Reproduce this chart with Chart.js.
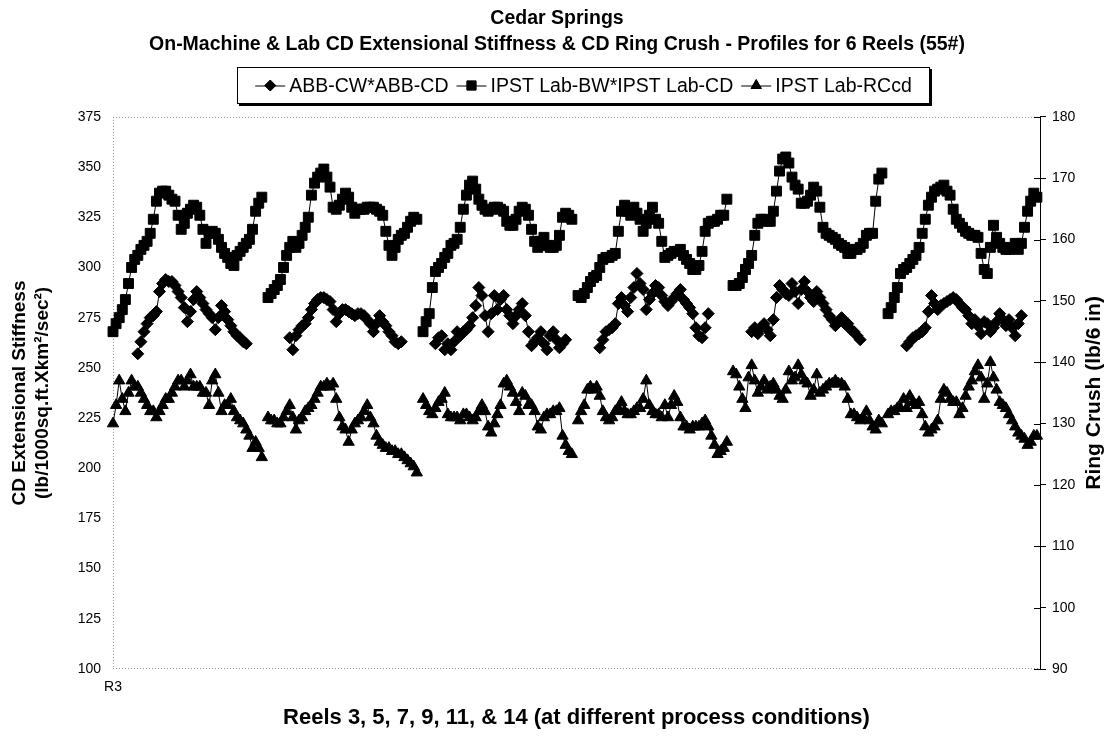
<!DOCTYPE html>
<html>
<head>
<meta charset="utf-8">
<title>Cedar Springs CD profiles</title>
<script src="https://cdn.jsdelivr.net/npm/chart.js@4.4.1/dist/chart.umd.min.js"></script>
<style>
  html, body { margin: 0; padding: 0; background: #fff; }
  canvas { display: block; }
</style>
</head>
<body>
<canvas id="profiles" width="1114" height="741"></canvas>
<script>
// Reels in the order they were run, 49 CD positions each
const reelNames = ['R3', 'R5', 'R7', 'R9', 'R11', 'R14'];
const axisLabels = ['R3'];

// ABB-CW*ABB-CD on-machine stiffness (left axis); edges not measured
const abbStiffness = [
  [null, null, null, null, null, null, null, null, 257, 263, 268, 272, 275, 276, 278, 288, 292, 294, 293, 293, 291, 288, 285, 280, 273, 278, 284, 288, 285, 282, 279, 277, 275, 269, 275, 281, 278, 274, 271, 268, 266, 265, 263, 262, null, null, null, null, null],
  [null, null, null, null, null, null, null, 265, 259, 266, 269, 271, 272, 275, 279, 282, 284, 285, 285, 284, 283, 279, 273, 277, 279, 279, 278, 277, 276, 277, 277, 276, 274, 272, 268, 272, 276, 273, 271, 268, 266, 263, 262, 263, null, null, null, null, null],
  [null, null, null, null, 262, 265, 266, 259, 262, 259, 263, 268, 266, 268, 269, 271, 275, 281, 290, 286, 276, 268, 277, 286, 279, 284, 286, 279, 276, 272, 276, 279, 282, 276, 268, 261, 263, 265, 268, 262, 259, 266, 268, 264, 260, 262, 264, null, null],
  [null, null, null, null, null, null, null, 260, 264, 268, 269, 270, 272, 282, 285, 281, 278, 285, 290, 297, 292, 289, 279, 284, 287, 291, 290, 286, 283, 281, 283, 285, 287, 289, 284, 282, 280, 277, 270, 266, 265, 270, 277, null, null, null, null, null, null],
  [null, null, null, null, null, null, 268, 270, 267, 270, 272, 269, 266, 274, 285, 291, 289, 287, 286, 292, 288, 282, 289, 293, 288, 285, 283, 288, 285, 282, 279, 276, 274, 271, 273, 275, 272, 272, 269, 268, 266, 264, null, null, null, null, null, null, null],
  [null, null, null, null, null, null, 261, 263, 265, 266, 267, 268, 270, 278, 286, 282, 279, 281, 282, 283, 284, 285, 284, 282, 280, 279, 276, 272, 274, 271, 267, 273, 272, 268, 270, 273, 277, 274, 271, 274, 270, 266, 272, 276, null, null, null, null, null]
];

// IPST Lab-BW*IPST Lab-CD stiffness (left axis)
const labStiffness = [
  [268, 272, 275, 279, 284, 292, 300, 304, 306, 309, 311, 313, 317, 324, 333, 337, 338, 338, 336, 334, 333, 326, 319, 322, 327, 329, 331, 330, 326, 319, 312, 317, 318, 317, 314, 310, 307, 305, 302, 301, 306, 308, 310, 312, 314, 319, 328, 332, 335],
  [285, 287, 289, 291, 294, 300, 306, 310, 313, 310, 312, 316, 320, 325, 336, 342, 345, 347, 349, 345, 340, 330, 329, 331, 334, 337, 335, 330, 327, 329, 329, 329, 330, 330, 330, 329, 328, 326, 318, 311, 306, 310, 314, 316, 317, 320, 323, 325, 324],
  [268, 273, 277, 290, 298, 300, 302, 305, 307, 311, 312, 314, 320, 329, 336, 341, 343, 339, 334, 331, 329, 328, 329, 330, 330, 329, 328, 323, 321, 321, 324, 328, 330, 329, 326, 319, 313, 310, 313, 315, 311, 310, 310, 311, 316, 325, 327, 326, 324],
  [286, 285, 287, 290, 293, 295, 296, 300, 304, 305, 305, 306, 307, 318, 328, 331, 328, 326, 330, 327, 324, 318, 322, 326, 330, 324, 322, 313, 305, 306, 307, 308, 308, 309, 306, 304, 302, 299, 299, 301, 308, 318, 322, 323, 323, 324, 326, 326, 334],
  [291, 291, 292, 295, 299, 302, 306, 316, 322, 324, 324, 323, 323, 328, 338, 348, 354, 355, 352, 345, 341, 339, 332, 332, 333, 336, 340, 338, 330, 320, 317, 316, 315, 314, 312, 311, 310, 307, 307, 309, 309, 310, 312, 316, 317, 317, 333, 344, 347],
  [277, 280, 285, 290, 297, 299, 300, 302, 304, 306, 310, 317, 324, 331, 335, 338, 339, 340, 341, 338, 336, 329, 324, 322, 320, 318, 317, 316, 316, 315, 307, 299, 297, 310, 321, 315, 312, 310, 309, 309, 310, 312, 309, 312, 320, 328, 333, 337, 335]
];

// IPST Lab-RCcd ring crush (right axis)
const ringCrush = [
  [130, 133, 137, 134, 132, 135, 137, 136, 136, 135, 134, 133, 132, 132, 131, 132, 133, 134, 134, 135, 136, 137, 137, 136, 137, 138, 136, 136, 136, 135, 135, 133, 137, 138, 135, 132, 133, 133, 134, 132, 131, 130.5, 130, 129, 128, 126, 127, 126, 124.5],
  [131, 130.5, 130.5, 130, 130, 131, 132, 133, 131, 129, 130.5, 131, 132, 132.5, 133, 134, 135, 136, 136, 136.5, 136, 136.5, 134, 131, 129.5, 129, 127, 129, 130, 130.5, 131, 132, 133, 131, 130, 128, 127, 126.5, 126, 126, 125.5, 125.5, 125, 125, 124.5, 124, 123.5, 123, 122],
  [134, 133, 132, 131.5, 132.5, 133.5, 134, 135, 131.5, 131, 131, 131, 130.5, 131.5, 131.5, 131, 130.5, 131, 132, 133, 132, 129.5, 128.5, 130, 131.5, 133, 136.5, 137, 136, 135, 133.5, 132, 135, 134.5, 133, 133, 132, 129.5, 129, 131, 131.5, 131.5, 132, 132, 132.5, 128, 126.5, 125.5, 125],
  [130.5, 132, 133, 135.5, 136, 135.5, 136, 134.5, 132, 131, 130.5, 131, 132, 132.5, 133.5, 132, 131.5, 131.5, 132, 132.5, 132.5, 134, 137, 133, 132, 131.5, 131.5, 131, 133, 131, 133, 134.5, 133.5, 131, 129.5, 129.5, 129, 129.5, 129.5, 129.5, 130, 130.5, 129.5, 128, 126.5, 125, 125.5, 126, 127],
  [138.5, 138, 136, 134, 132.5, 137.5, 139.5, 137, 135, 136, 137, 135.5, 136, 136.5, 135.5, 134.5, 134, 135.5, 138.5, 137, 137.5, 139.5, 138, 137, 136.5, 134.5, 135.5, 138, 135, 135.5, 136, 136.5, 136.5, 137, 136.5, 136.5, 136, 134, 131.5, 131.5, 131, 130.5, 131, 132, 130.5, 129.5, 129, 130.5, 130],
  [131.5, 132, 132, 132.5, 132.5, 134, 132.5, 134.5, 133.5, 133, 133.5, 131.5, 129.5, 128.5, 129, 129.5, 130.5, 134, 135.5, 135, 134, 133.5, 133.5, 131.5, 132.5, 134.5, 136, 137, 138.5, 139.5, 137.5, 134, 136.5, 140, 137.5, 135.5, 133.5, 133, 132.5, 131.5, 130.5, 129.5, 128.5, 128, 127.5, 126.5, 127, 128, 128]
];

// one category per CD position, with an empty slot after each reel so lines break
function joinReels(rows) {
  const out = [];
  rows.forEach(row => { row.forEach(v => out.push(v)); out.push(null); });
  return out;
}

const labels = joinReels(labStiffness).map((_, i) => axisLabels[i] || '');

// dotted plot-area frame and the inner half of the right-axis ticks
const plotFrame = {
  id: 'plotFrame',
  beforeDatasetsDraw(chart) {
    const { ctx, chartArea: a } = chart;
    ctx.save();
    ctx.strokeStyle = '#8c8c8c';
    ctx.lineWidth = 1;
    ctx.setLineDash([1, 2]);
    ctx.beginPath();
    ctx.moveTo(a.left, a.top + 0.5); ctx.lineTo(a.right, a.top + 0.5);
    ctx.moveTo(a.left + 0.5, a.top); ctx.lineTo(a.left + 0.5, a.bottom);
    ctx.moveTo(a.left, a.bottom - 0.5); ctx.lineTo(a.right, a.bottom - 0.5);
    ctx.stroke();
    ctx.setLineDash([]);

    const y2 = chart.scales.y2;
    ctx.strokeStyle = '#000';
    ctx.beginPath();
    y2.ticks.forEach((t, i) => {
      const y = Math.round(y2.getPixelForTick(i)) + 0.5;
      ctx.moveTo(a.right - 6, y);
      ctx.lineTo(a.right, y);
    });
    ctx.stroke();
    ctx.restore();
  }
};

function marker(ctx, style, radius, x, y) {
  ctx.fillStyle = '#000';
  ctx.strokeStyle = '#000';
  ctx.lineWidth = 1;
  Chart.helpers.drawPoint(ctx, { pointStyle: style, radius: radius, borderWidth: 1 }, x, y);
  ctx.fill();
}

// boxed legend with line+marker samples, and the right axis title
const boxedLegend = {
  id: 'boxedLegend',
  afterDraw(chart) {
    const { ctx, chartArea: a } = chart;
    const boxL = 237, boxT = 67, boxR = 930, boxB = 104;
    ctx.save();
    ctx.fillStyle = '#000';
    ctx.fillRect(boxL + 2, boxB, boxR - boxL, 2);
    ctx.fillRect(boxR, boxT + 2, 2, boxB - boxT);
    ctx.fillStyle = '#fff';
    ctx.fillRect(boxL, boxT, boxR - boxL, boxB - boxT);
    ctx.strokeStyle = '#000';
    ctx.lineWidth = 1;
    ctx.strokeRect(boxL + 0.5, boxT + 0.5, boxR - boxL - 1, boxB - boxT - 1);

    ctx.font = '19.5px "Liberation Sans", Arial, sans-serif';
    ctx.textBaseline = 'middle';
    ctx.textAlign = 'left';
    const sample = 30, gap = 4, spacing = 8;
    const items = chart.data.datasets.map(ds => ({
      text: ds.label, style: ds.pointStyle, radius: ds.pointRadius - 0.5,
      w: sample + gap + ctx.measureText(ds.label).width
    }));
    const total = items.reduce((s, it) => s + it.w, 0) + spacing * (items.length - 1);
    let x = (boxL + boxR) / 2 - total / 2;
    const cy = (boxT + boxB) / 2;
    items.forEach(it => {
      ctx.strokeStyle = '#000';
      ctx.lineWidth = 1;
      ctx.beginPath();
      ctx.moveTo(x, cy + 0.5);
      ctx.lineTo(x + sample, cy + 0.5);
      ctx.stroke();
      marker(ctx, it.style, it.radius, x + sample / 2, cy);
      ctx.fillStyle = '#000';
      ctx.fillText(it.text, x + sample + gap, cy + 1);
      x += it.w + spacing;
    });

    ctx.translate(1094, (a.top + a.bottom) / 2);
    ctx.rotate(-Math.PI / 2);
    ctx.textAlign = 'center';
    ctx.font = 'bold 21px "Liberation Sans", Arial, sans-serif';
    ctx.fillText('Ring Crush (lb/6 in)', 0, 0);
    ctx.restore();
  }
};

Chart.defaults.font.family = '"Liberation Sans", Arial, sans-serif';
Chart.defaults.color = '#000';

new Chart(document.getElementById('profiles'), {
  type: 'line',
  data: {
    labels: labels,
    datasets: [
      {
        label: 'ABB-CW*ABB-CD',
        data: joinReels(abbStiffness),
        yAxisID: 'y',
        pointStyle: 'rectRot',
        pointRadius: 6
      },
      {
        label: 'IPST Lab-BW*IPST Lab-CD',
        data: joinReels(labStiffness),
        yAxisID: 'y',
        pointStyle: 'rect',
        pointRadius: 7
      },
      {
        label: 'IPST Lab-RCcd',
        data: joinReels(ringCrush),
        yAxisID: 'y2',
        pointStyle: 'triangle',
        pointRadius: 6.5
      }
    ].map(ds => Object.assign(ds, {
      borderColor: '#000',
      borderWidth: 1,
      backgroundColor: '#000',
      pointBackgroundColor: '#000',
      pointBorderColor: '#000',
      pointBorderWidth: 1,
      tension: 0,
      spanGaps: false
    }))
  },
  options: {
    responsive: false,
    animation: false,
    layout: { padding: 0 },
    plugins: {
      legend: { display: false },
      tooltip: { enabled: false },
      title: {
        display: true,
        text: [
          'Cedar Springs',
          'On-Machine & Lab CD Extensional Stiffness & CD Ring Crush - Profiles for 6 Reels (55#)'
        ],
        font: { size: 19.5, weight: 'bold', lineHeight: 1.33 },
        padding: { top: 6, bottom: 59 }
      }
    },
    scales: {
      x: {
        type: 'category',
        offset: false,
        grid: { display: false, drawTicks: false },
        border: { display: false },
        ticks: {
          autoSkip: false,
          maxRotation: 0,
          padding: 10,
          font: { size: 14 }
        },
        title: {
          display: true,
          text: 'Reels 3, 5, 7, 9, 11, & 14 (at different process conditions)',
          font: { size: 22, weight: 'bold', lineHeight: 1.2 },
          padding: { top: 0, bottom: 10 }
        },
        afterFit(scale) { scale.height = 72; }
      },
      y: {
        position: 'left',
        min: 100,
        max: 375,
        grid: { display: false, drawTicks: false },
        border: { display: false },
        ticks: { stepSize: 25, padding: 12, font: { size: 14 } },
        title: {
          display: true,
          text: ['CD Extensional Stiffness', '(lb/1000sq.ft.Xkm\u00b2/sec\u00b2)'],
          font: { size: 19, weight: 'bold', lineHeight: 1.21 },
          padding: { top: 8.5, bottom: 0 }
        },
        afterFit(scale) { scale.width = 113; }
      },
      y2: {
        position: 'right',
        min: 90,
        max: 180,
        grid: { display: true, drawOnChartArea: false, drawTicks: true, tickLength: 6, color: '#000' },
        border: { display: true, color: '#000', width: 1 },
        ticks: { stepSize: 10, padding: 6, font: { size: 14 } },
        afterFit(scale) { scale.width = 74; }
      }
    }
  },
  plugins: [plotFrame, boxedLegend]
});
</script>
</body>
</html>
